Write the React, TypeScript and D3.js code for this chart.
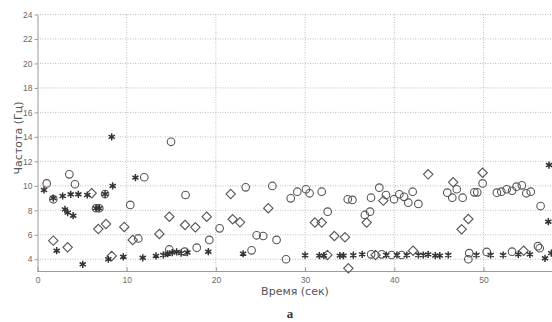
import React, { useEffect, useRef } from "react";
import * as d3 from "d3";

// [time (sec), frequency (Hz)]
const circlePoints: [number, number][] = [
  [1.03, 10.2], [1.77, 8.9], [3.57, 10.94], [4.2, 10.13], [6.56, 8.17], [6.93, 8.17],
  [7.57, 9.33], [10.4, 8.44], [11.3, 5.7], [11.97, 10.7], [14.97, 13.6], [14.78, 4.8],
  [16.6, 9.25], [16.5, 4.62], [17.85, 4.95], [19.26, 5.58], [20.42, 6.53], [23.34, 9.88],
  [24.0, 4.73], [24.57, 5.96], [25.3, 5.9], [26.33, 9.99], [26.8, 5.58], [27.86, 4.0],
  [28.39, 8.98], [29.13, 9.52], [30.1, 9.72], [30.5, 9.39], [31.86, 9.52], [32.53, 7.89],
  [34.78, 8.9], [35.3, 8.85], [36.7, 7.62], [37.28, 7.89], [37.39, 9.03], [37.4, 4.4],
  [38.32, 9.85], [38.6, 4.4], [39.07, 9.25], [39.7, 4.35], [39.97, 8.9], [40.56, 9.31],
  [40.8, 4.35], [41.1, 9.1], [41.57, 8.62], [42.06, 9.52], [42.7, 8.52], [45.94, 9.44],
  [46.5, 9.03], [47.0, 9.72], [47.66, 9.03], [48.3, 4.0], [48.4, 4.5], [48.97, 9.47],
  [49.3, 9.47], [49.9, 10.2], [50.36, 4.6], [51.5, 9.44], [52.0, 9.52], [52.6, 9.72],
  [53.2, 9.6], [53.2, 4.62], [53.7, 9.93], [54.3, 10.04], [54.8, 9.39], [55.3, 9.52],
  [56.1, 5.07], [56.3, 4.9], [56.4, 8.35],
];

const diamondPoints: [number, number][] = [
  [1.77, 5.52], [3.38, 4.98], [6.07, 9.4], [6.82, 6.47], [7.68, 6.88], [8.32, 4.27],
  [9.73, 6.64], [10.67, 5.58], [13.66, 6.07], [14.78, 7.48], [16.54, 6.8], [17.7, 6.61],
  [18.97, 7.48], [21.66, 9.33], [21.88, 7.27], [22.7, 7.02], [25.87, 8.17], [31.1, 7.0],
  [31.86, 7.0], [32.5, 4.35], [33.28, 5.9], [34.47, 5.8], [34.85, 3.26], [36.9, 7.0],
  [37.9, 4.35], [38.77, 8.79], [42.1, 4.7], [43.8, 10.94], [46.6, 10.29], [47.55, 6.45],
  [48.3, 7.29], [49.9, 11.07], [54.5, 4.7],
];

const starPoints: [number, number][] = [
  [0.73, 9.66], [1.77, 9.0], [2.15, 4.7], [2.82, 9.17], [3.08, 8.08], [3.38, 7.81],
  [3.72, 9.31], [4.0, 7.56], [4.58, 9.31], [5.07, 3.59], [5.58, 9.25], [6.56, 8.17],
  [6.93, 8.17], [7.57, 9.33], [7.94, 4.0], [8.32, 14.0], [8.43, 9.99], [9.62, 4.2],
  [10.98, 10.67], [11.8, 4.12], [13.28, 4.27], [14.1, 4.35], [14.6, 4.45], [15.1, 4.55],
  [15.6, 4.6], [16.1, 4.5], [16.8, 4.55], [19.15, 4.62], [23.05, 4.45], [30.0, 4.33],
  [31.6, 4.3], [32.1, 4.3], [33.9, 4.3], [34.3, 4.3], [35.4, 4.33], [36.4, 4.4],
  [39.1, 4.35], [40.3, 4.35], [41.4, 4.35], [42.7, 4.35], [43.25, 4.35], [43.8, 4.4],
  [44.6, 4.3], [45.1, 4.3], [46.05, 4.35], [49.2, 4.35], [50.8, 4.35], [52.2, 4.35],
  [53.9, 4.4], [55.2, 4.4], [56.9, 4.08], [57.27, 7.07], [57.35, 11.7], [57.6, 4.5],
];

const xTicks = [0, 10, 20, 30, 40, 50];
const yTicks = [4, 6, 8, 10, 12, 14, 16, 18, 20, 22, 24];
const xLabel = "Время (сек)";
const yLabel = "Частота (Гц)";
const caption = "а";

const App = () => {
  const svgRef = useRef<SVGSVGElement>(null);

  const width = 552;
  const height = 322;
  const marginLeft = 37.5;
  const marginTop = 14.5;
  const plotBottom = 271.5;

  useEffect(() => {
    if (!svgRef.current) return;
    const svg = d3.select(svgRef.current);
    svg.selectAll("*").remove();

    const x = d3.scaleLinear().domain([0, 60]).range([marginLeft, marginLeft + 8.92 * 60]);
    const y = d3.scaleLinear().domain([3, 24]).range([plotBottom, marginTop]);

    svg.append("rect").attr("width", width).attr("height", height).attr("fill", "#fff");

    // grid
    const grid = svg.append("g").attr("stroke", "#bdbdbd").attr("stroke-dasharray", "1,1.5");
    grid
      .selectAll(".hg")
      .data(yTicks)
      .join("line")
      .attr("x1", marginLeft)
      .attr("x2", width)
      .attr("y1", (d) => y(d))
      .attr("y2", (d) => y(d));
    grid
      .selectAll(".vg")
      .data(xTicks.filter((d) => d > 0))
      .join("line")
      .attr("x1", (d) => x(d))
      .attr("x2", (d) => x(d))
      .attr("y1", marginTop)
      .attr("y2", plotBottom);

    // axes
    const font = "'Liberation Sans', Arial, sans-serif";
    const xAxis = svg
      .append("g")
      .attr("transform", `translate(0,${plotBottom})`)
      .call(d3.axisBottom(x).tickValues(xTicks).tickSize(-4).tickPadding(5).tickSizeOuter(0));
    const yAxis = svg
      .append("g")
      .attr("transform", `translate(${marginLeft},0)`)
      .call(d3.axisLeft(y).tickValues(yTicks).tickSize(3).tickPadding(2).tickSizeOuter(0));
    [xAxis, yAxis].forEach((g) => {
      g.select(".domain").attr("stroke", "#9a9a9a");
      g.selectAll(".tick line").attr("stroke", "#9a9a9a");
      g.selectAll("text").attr("fill", "#6a6a6a").style("font-size", "8.5px").style("font-family", font);
    });
    xAxis.select(".domain").attr("d", `M${marginLeft},0H${width}`);

    // markers
    const stroke = "#555";
    svg
      .append("g")
      .selectAll("circle")
      .data(circlePoints)
      .join("circle")
      .attr("cx", (d) => x(d[0]))
      .attr("cy", (d) => y(d[1]))
      .attr("r", 3.8)
      .attr("fill", "none")
      .attr("stroke", stroke)
      .attr("stroke-width", 1.1);

    const diamondType = (d3 as any).symbolDiamond2 ?? d3.symbolDiamond;
    svg
      .append("g")
      .selectAll("path")
      .data(diamondPoints)
      .join("path")
      .attr("transform", (d) => `translate(${x(d[0])},${y(d[1])})`)
      .attr("d", d3.symbol().type(diamondType).size(56)())
      .attr("fill", "none")
      .attr("stroke", stroke)
      .attr("stroke-width", 1.1);

    const starType = (d3 as any).symbolAsterisk ?? d3.symbolCross;
    svg
      .append("g")
      .selectAll("path")
      .data(starPoints)
      .join("path")
      .attr("transform", (d) => `translate(${x(d[0])},${y(d[1])})`)
      .attr("d", d3.symbol().type(starType).size(36)())
      .attr("fill", "none")
      .attr("stroke", "#333")
      .attr("stroke-width", 1.5);

    // labels
    svg
      .append("text")
      .attr("x", 295)
      .attr("y", 295)
      .attr("text-anchor", "middle")
      .attr("fill", "#555")
      .style("font-family", "'DejaVu Sans', sans-serif")
      .style("font-size", "11px")
      .text(xLabel);

    svg
      .append("text")
      .attr("transform", `translate(22,${138}) rotate(-90)`)
      .attr("text-anchor", "middle")
      .attr("fill", "#555")
      .style("font-family", "'DejaVu Sans', sans-serif")
      .style("font-size", "11px")
      .text(yLabel);

    svg
      .append("text")
      .attr("x", 290)
      .attr("y", 318)
      .attr("text-anchor", "middle")
      .attr("fill", "#333")
      .style("font-family", "'Liberation Serif', serif")
      .style("font-weight", "bold")
      .style("font-size", "13px")
      .text(caption);
  }, []);

  return (
    <svg
      ref={svgRef}
      width={width}
      height={height}
      style={{ position: "absolute", left: 0, top: 0 }}
    ></svg>
  );
};

export default App;
